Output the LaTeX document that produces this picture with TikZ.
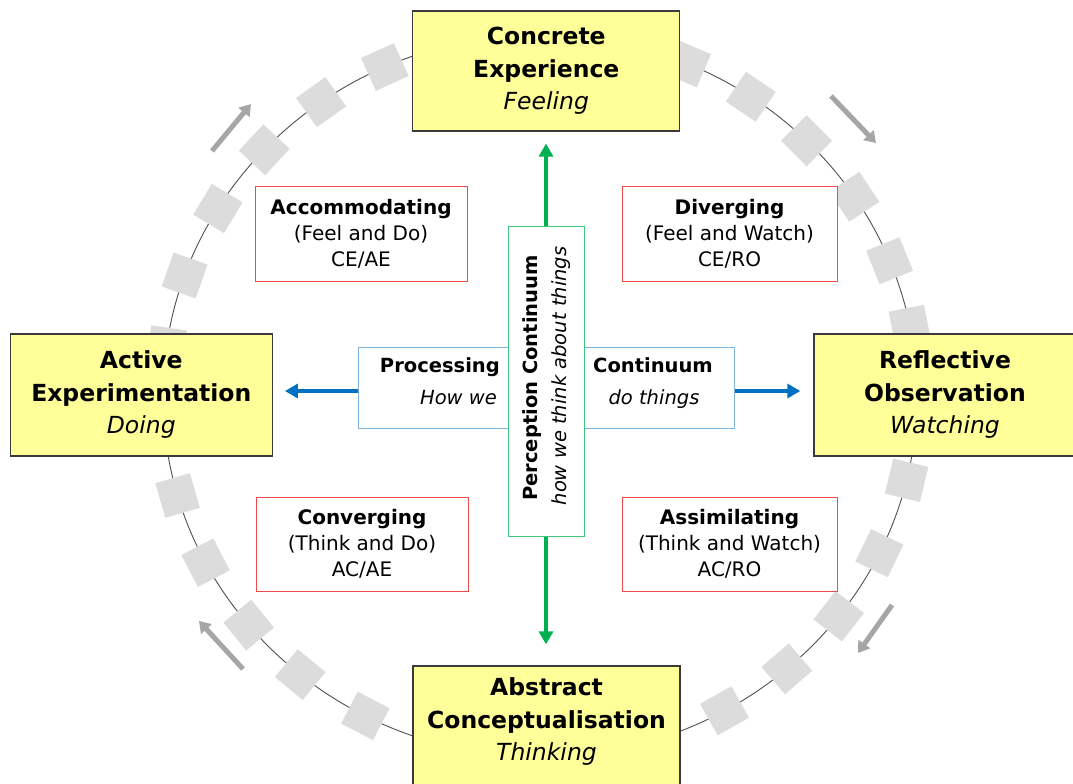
\documentclass[tikz,border=0pt]{standalone}
\usepackage{fontspec}
\setmainfont{DejaVu Sans}
\usetikzlibrary{arrows.meta}
\definecolor{yel}{HTML}{FFFF99}
\definecolor{boxline}{HTML}{3A3A3A}
\definecolor{redline}{HTML}{F04B4B}
\definecolor{blueline}{HTML}{7EB3E0}
\definecolor{greenline}{HTML}{3CC878}
\definecolor{garrowc}{HTML}{00B050}
\definecolor{barrowc}{HTML}{0070C0}
\definecolor{sqc}{HTML}{DCDCDC}
\definecolor{ringc}{HTML}{505050}
\definecolor{cyc}{HTML}{A6A6A6}
\begin{document}
\begin{tikzpicture}[x=1pt,y=-1pt,
  modebox/.style={draw=boxline, line width=1.3pt, fill=yel, inner sep=0pt, align=center,
    font=\fontsize{23.5}{32.5}\selectfont},
  bigtext/.style={inner sep=0pt, align=center, font=\fontsize{23.5}{32.5}\selectfont},
  lbox/.style={draw=redline, line width=1pt, fill=white, inner sep=0pt, align=center,
    font=\fontsize{20}{26}\selectfont},
  midtext/.style={inner sep=0pt, font=\fontsize{19.5}{24}\selectfont},
  sq/.style={fill=sqc, minimum size=36pt, inner sep=0pt},
  garrow/.style={draw=garrowc, line width=4.5pt, -{Triangle[length=13pt,width=14pt]}},
  barrow/.style={draw=barrowc, line width=4.5pt, -{Triangle[length=13pt,width=14pt]}},
  carrow/.style={draw=cyc, line width=5pt, -{Triangle[length=11pt,width=14pt]}},
]
\useasboundingbox (0,0) rectangle (1073,784);

% ring
\draw[ringc, line width=0.9pt] (540,396) ellipse [x radius=377pt, y radius=361pt];

% squares on the ring
\foreach \t [count=\i] in {114.3,125.5,137,148.7,160.5,172,
                           67,56,45,33.5,22,11.2,
                           -13.5,-25.8,-37.6,-49.1,-60.7,
                           196,207.5,219.4,230.5,242.4}
  \node[sq, rotate=\t] (sq\i) at ({540+377*cos(\t)}, {396-361*sin(\t)}) {};

% cycle arrows
\coordinate (tla) at (212,151); \coordinate (tlb) at (251,104);
\coordinate (tra) at (831,96);  \coordinate (trb) at (876,143);
\coordinate (bra) at (892,605); \coordinate (brb) at (858,653);
\coordinate (bla) at (243,669); \coordinate (blb) at (199,621);
\draw[carrow] (tla) -- (tlb);
\draw[carrow] (tra) -- (trb);
\draw[carrow] (bra) -- (brb);
\draw[carrow] (bla) -- (blb);

% four modes
\node[modebox, minimum width=267pt, minimum height=120pt] (CE) at (546.3,71)
  {\textbf{Concrete}\\\textbf{Experience}\\\textit{Feeling}};
\node[modebox, minimum width=262pt, minimum height=122pt] (AE) at (141.3,395)
  {\textbf{Active}\\\textbf{Experimentation}\\\textit{Doing}};
\node[modebox, minimum width=262pt, minimum height=122pt] (RO) at (945,395)
  {\textbf{Reflective}\\\textbf{Observation}\\\textit{Watching}};
\node[modebox, minimum width=267pt, minimum height=122pt] (AC) at (546.5,727) {};
\node[bigtext] (ACt) at (546.5,722)
  {\textbf{Abstract}\\\textbf{Conceptualisation}\\\textit{Thinking}};

% learning styles
\node[lbox, minimum width=212pt, minimum height=95pt] (ACC) at (361,233.5)
  {\textbf{Accommodating}\\(Feel and Do)\\CE/AE};
\node[lbox, minimum width=215pt, minimum height=95pt] (DIV) at (729.5,233.5)
  {\textbf{Diverging}\\(Feel and Watch)\\CE/RO};
\node[lbox, minimum width=212pt, minimum height=94pt] (CONV) at (362,544)
  {\textbf{Converging}\\(Think and Do)\\AC/AE};
\node[lbox, minimum width=215pt, minimum height=94pt] (ASSIM) at (729.5,544)
  {\textbf{Assimilating}\\(Think and Watch)\\AC/RO};

% continua
\node[draw=blueline, line width=1pt, fill=white, minimum width=376pt, minimum height=81pt] (PR) at (546,387.5) {};
\node[draw=greenline, line width=1pt, fill=white, minimum width=76pt, minimum height=310pt] (PC) at (546,381.7) {};

\node[midtext, anchor=base east] (t1) at (500,372) {\textbf{Processing}};
\node[midtext, anchor=base east] (t2) at (497,404) {\textit{How we}};
\node[midtext, anchor=base] (t3) at (653,372) {\textbf{Continuum}};
\node[midtext, anchor=base] (t4) at (654,404) {\textit{do things}};
\node[midtext, rotate=90] (t5) at (532,378) {\textbf{Perception Continuum}};
\node[midtext, rotate=90] (t6) at (561,376) {\textit{how we think about things}};

% arrows
\draw[garrow, shorten >=12pt] (PC.north) -- (PC.north |- CE.south);
\draw[garrow, shorten >=21pt] (PC.south) -- (PC.south |- AC.north);
\draw[barrow, shorten >=12pt] ([yshift=-3.5pt]PR.west) -- ([yshift=-3.5pt]PR.west -| AE.east);
\draw[barrow, shorten >=13pt] ([yshift=-3.5pt]PR.east) -- ([yshift=-3.5pt]PR.east -| RO.west);
\end{tikzpicture}
\end{document}
